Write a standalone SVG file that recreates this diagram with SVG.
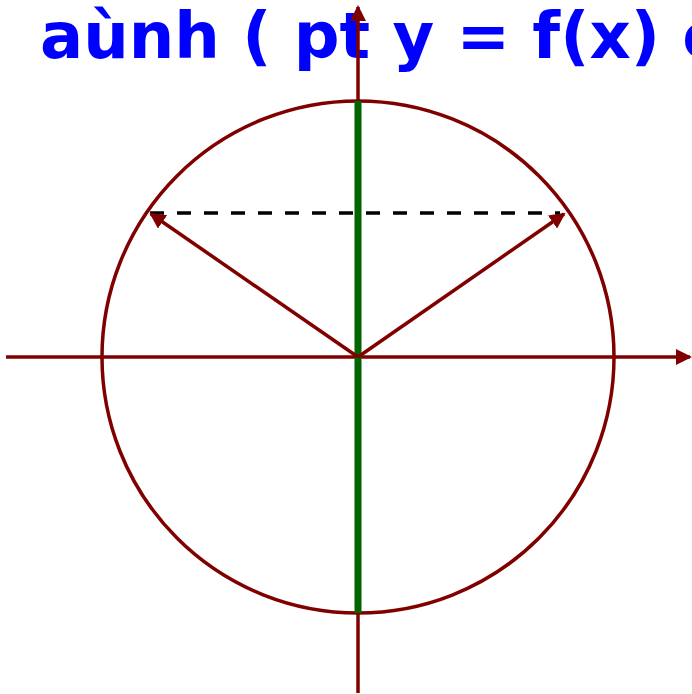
<svg xmlns="http://www.w3.org/2000/svg" width="692" height="694" viewBox="0 0 692 694">
<style>
.ln{stroke:#800000;stroke-width:3.5;fill:none}
.ttl{font-family:"DejaVu Sans",sans-serif;font-weight:bold;font-size:64px;fill:#0000ff}
</style>
<defs>
<marker id="ah" markerUnits="userSpaceOnUse" markerWidth="16" markerHeight="16" viewBox="0 0 16 16" refX="14" refY="8" orient="auto">
<path d="M0,0 L16,8 L0,16 Z" fill="#800000"/>
</marker>
</defs>
<rect width="692" height="694" fill="#ffffff"/>
<text class="ttl" x="40" y="58">aùnh ( pt y = f(x) c</text>
<g id="circle"><circle class="ln" cx="358" cy="357" r="256"/></g>
<g id="connectors">
<line class="ln" x1="6" y1="357" x2="690" y2="357" marker-end="url(#ah)"/>
<line class="ln" x1="358" y1="693" x2="358" y2="7" marker-end="url(#ah)"/>
<line x1="358" y1="101" x2="358" y2="613" stroke="#006400" stroke-width="7"/>
<line x1="150" y1="213" x2="560" y2="213" stroke="#000000" stroke-width="3.5" stroke-dasharray="14,13"/>
<line class="ln" x1="358" y1="357" x2="151" y2="214" marker-end="url(#ah)"/>
<line class="ln" x1="358" y1="357" x2="564" y2="214" marker-end="url(#ah)"/>
</g>
</svg>
